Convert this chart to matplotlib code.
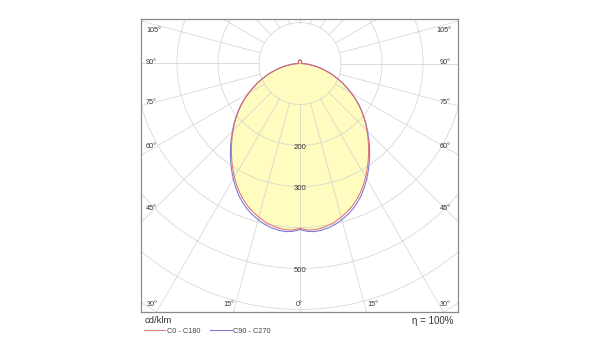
import numpy as np
import matplotlib
matplotlib.use('Agg')
import matplotlib.pyplot as plt

# ---- data (cd/klm) ----
gamma = [0, 2.5, 5, 7.5, 10, 12.5, 15, 17.5, 20, 22.5, 25, 27.5, 30, 32.5, 35, 37.5, 40, 42.5, 45,
         47.5, 50, 52.5, 55, 57.5, 60, 62.5, 65, 67.5, 70, 72.5, 75, 77.5, 80, 82.5, 85, 87.5, 90,
         95, 100, 105, 110, 115, 120, 125, 130, 135, 140, 145, 150, 155, 160, 165, 170, 175, 180]
c0_c180 = [402, 406.5, 407, 405, 401, 395.5, 388, 380, 371, 360, 348, 334.5, 320, 305, 290, 275, 260,
           245.5, 231, 217, 203, 189, 175, 160, 145, 130, 116, 102, 88, 75, 62, 50, 39, 28,
           18, 9, 3,
           3, 3, 3, 4, 4, 4, 5, 5, 6, 6, 7, 7, 8, 8, 8, 8, 8, 8]
c90_c270 = [405, 410, 411.5, 410, 406.5, 401.5, 394.5, 386.5, 377.5, 366.5, 354, 340, 325.5, 310, 294.5,
            279, 263.5, 248, 233, 218.5, 204, 189, 175, 160, 145, 130, 116, 102, 88, 75, 62,
            50, 39, 28, 18, 9, 3,
            3, 3, 3, 4, 4, 4, 5, 5, 6, 6, 7, 7, 8, 8, 8, 8, 8, 8]
ring_values = [100, 200, 300, 400, 500, 600, 700, 800]
ring_labels = [200, 300, 500]
side_angle_labels = ['105°', '90°', '75°', '60°', '45°']
bottom_angle_labels = ['30°', '15°', '0°', '15°', '30°']
series_names = ['C0 - C180', 'C90 - C270']
unit_text = 'cd/klm'
eta_text = 'η = 100%'

FONT = ['Liberation Sans', 'DejaVu Sans']
plt.rcParams['font.family'] = FONT

fig = plt.figure(figsize=(6, 3.6), dpi=100)
W, H = 600, 360
ax = fig.add_axes([141 / W, 1 - 312 / H, 317 / W, 293 / H])

s = 0.41  # px per cd/klm
cx, cy = 300, 63.5
ax.set_xlim((141 - cx) / s, (458 - cx) / s)
ax.set_ylim(-(312 - cy) / s, (cy - 19) / s)
ax.set_xticks([])
ax.set_yticks([])
for sp in ax.spines.values():
    sp.set_color('#8a8a8a')
    sp.set_linewidth(0.9)


def curve(vals):
    g = np.array(gamma, dtype=float)
    v = np.array(vals, dtype=float)
    gf = np.concatenate([-g[::-1], g[1:]])
    vf = np.concatenate([v[::-1], v[1:]])
    rad = np.deg2rad(gf)
    return vf * np.sin(rad), -vf * np.cos(rad)


x0, y0 = curve(c0_c180)
x9, y9 = curve(c90_c270)

ax.fill(x0, y0, color='#fffcc0', zorder=1, lw=0)

# grid
grid_col = '#cfcfcf'
t = np.linspace(0, 2 * np.pi, 400)
for r in ring_values:
    ax.plot(r * np.cos(t), r * np.sin(t), color=grid_col, lw=0.6, alpha=0.8, zorder=2)
for a in range(0, 360, 15):
    ra = np.deg2rad(a)
    ax.plot([100 * np.sin(ra), 1000 * np.sin(ra)], [-100 * np.cos(ra), -1000 * np.cos(ra)],
            color=grid_col, lw=0.6, alpha=0.8, zorder=2)

l9, = ax.plot(x9, y9, color='#6f6fd8', lw=0.8, alpha=0.9, zorder=3)
l0, = ax.plot(x0, y0, color='#e06a6a', lw=0.8, alpha=0.9, zorder=4)

tc = '#333333'
fs = 5.2
# radial labels
for r in ring_labels:
    ax.text(0, -(r + 6), str(r), ha='center', va='center', fontsize=5.6, color=tc, zorder=5)

# side angle labels (pixel positions)
side_y = [30, 63, 102, 146, 208]
for lab, yy in zip(side_angle_labels, side_y):
    fy = (312 - yy) / 293
    ax.text((146 - 141) / 317, fy, lab, transform=ax.transAxes, ha='left', va='center',
            fontsize=fs, color=tc)
    ax.text((451 - 141) / 317, fy, lab, transform=ax.transAxes, ha='right', va='center',
            fontsize=fs, color=tc)
bottom_x = [152, 228.5, 299, 372.5, 445.5]
for lab, xx in zip(bottom_angle_labels, bottom_x):
    ax.text((xx - 141) / 317, (312 - 304) / 293, lab, transform=ax.transAxes, ha='center',
            va='center', fontsize=fs, color=tc)

fig.text(145 / W, 1 - 320.5 / H, unit_text, ha='left', va='center', fontsize=6.8, color='#333333')
fig.text(453 / W, 1 - 320.5 / H, eta_text, ha='right', va='center', fontsize=7, color='#333333')

leg = fig.legend([l0, l9], series_names, loc='center left', bbox_to_anchor=(144 / W, 1 - 331 / H),
                 ncol=2, frameon=False, fontsize=5.3, handlelength=2.9, handletextpad=0.25,
                 columnspacing=1.3, borderpad=0, borderaxespad=0)
for txt in leg.get_texts():
    txt.set_color('#444444')

fig.savefig('out.png', dpi=100, facecolor='white')
